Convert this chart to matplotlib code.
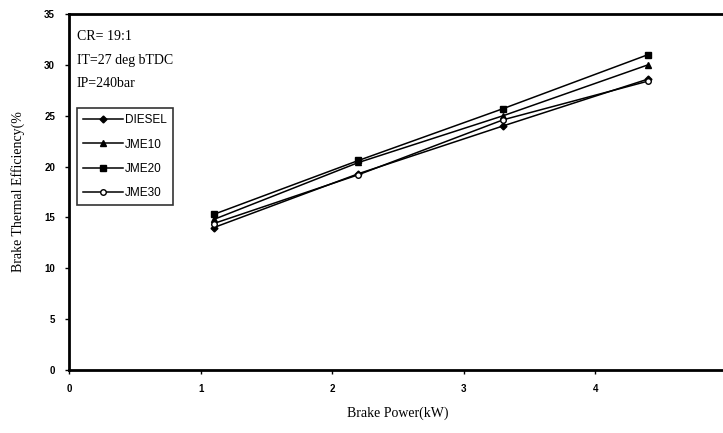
import matplotlib
matplotlib.use("Agg")
import matplotlib.pyplot as plt

# brake power (kW) and brake thermal efficiency (%) for each fuel
power = [1.1, 2.2, 3.3, 4.4]
diesel = [14.0, 19.3, 24.0, 28.6]
jme10 = [14.8, 20.4, 25.0, 30.0]
jme20 = [15.3, 20.6, 25.7, 31.0]
jme30 = [14.4, 19.2, 24.6, 28.4]

series = [
    ("DIESEL", diesel, dict(marker="D", markersize=3.5, markerfacecolor="k")),
    ("JME10", jme10, dict(marker="^", markersize=5, markerfacecolor="k")),
    ("JME20", jme20, dict(marker="s", markersize=5, markerfacecolor="k")),
    ("JME30", jme30, dict(marker="o", markersize=4, markerfacecolor="white")),
]

serif = "Liberation Serif"
sans = "Liberation Sans"

fig = plt.figure(figsize=(7.23, 4.33), dpi=100)
ax = fig.add_axes([0.0954, 0.1455, 0.9101, 0.8222])

for name, vals, style in series:
    ax.plot(power, vals, color="k", linewidth=1.1, markeredgecolor="k",
            label=name, **style)

ax.set_xlim(0, 5)
ax.set_ylim(0, 35)
ax.set_xticks(range(0, 6))
ax.set_yticks(range(0, 36, 5))
for lab in ax.get_xticklabels() + ax.get_yticklabels():
    lab.set_fontfamily(sans)
    lab.set_fontsize(7)
    lab.set_fontweight("bold")
ax.tick_params(direction="out", length=3, width=1, pad=7)
for s in ax.spines.values():
    s.set_linewidth(2)

ax.set_xlabel("Brake Power(kW)", fontfamily=serif, fontsize=10, labelpad=9)
ax.set_ylabel("Brake Thermal Efficiency(%", fontfamily=serif, fontsize=10,
              labelpad=14)

# engine settings
ax.text(0.012, 0.955, "CR= 19:1\nIT=27 deg bTDC\nIP=240bar",
        transform=ax.transAxes, fontfamily=serif, fontsize=10,
        va="top", ha="left", linespacing=2.05)

leg = ax.legend(loc="upper left", bbox_to_anchor=(0.012, 0.735),
                frameon=True, fancybox=False, edgecolor="k",
                prop={"family": sans, "size": 8.5}, labelspacing=1.05,
                handlelength=3.4, handletextpad=0.2, borderpad=0.5,
                borderaxespad=0)
leg.get_frame().set_linewidth(1.2)

fig.savefig("out.png", dpi=100)
